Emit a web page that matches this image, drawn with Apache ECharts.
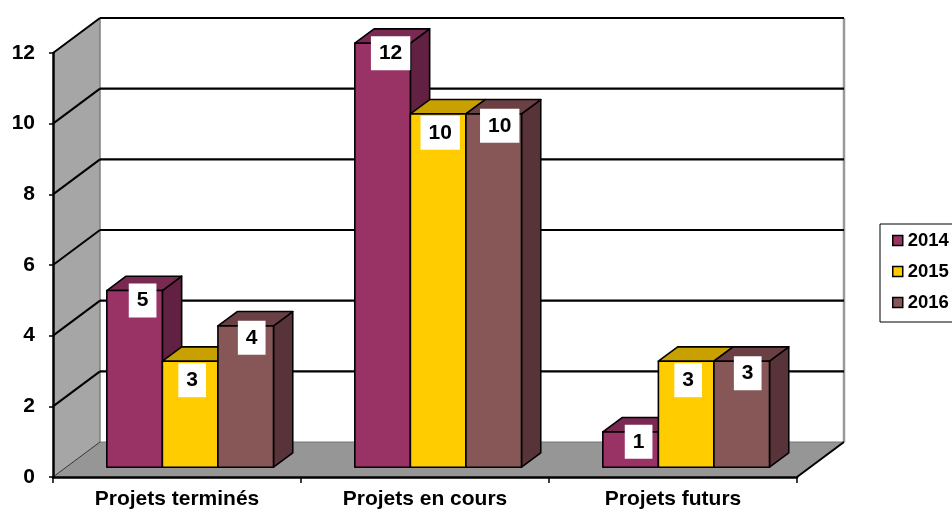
<!DOCTYPE html>
<html>
<head>
<meta charset="utf-8">
<script src="https://cdn.jsdelivr.net/npm/echarts@6/dist/echarts.min.js"></script>
<style>html,body{margin:0;padding:0;background:#fff;}#chart{width:952px;height:511px;}</style>
</head>
<body>
<div id="chart"></div>
<script>
// ---- data ----
const categories = ['Projets terminés', 'Projets en cours', 'Projets futurs'];
const seriesNames = ['2014', '2015', '2016'];
const values2014 = [5, 12, 1];
const values2015 = [3, 10, 3];
const values2016 = [4, 10, 3];
const yTicks = [0, 2, 4, 6, 8, 10, 12];

// ---- style ----
const FONT = '"Liberation Sans", Arial, sans-serif';
const frontColors = ['#993366', '#FFCC00', '#875657'];
const topColors = ['#7a2952', '#c8a000', '#6b4044'];
const sideColors = ['#622042', '#a88600', '#58343a'];
const DEPTH = { x: 47, y: -35 };   // full depth of the 3D box
const BAR_FRONT = 0.28;            // bar front plane (fraction of depth)
const BAR_DEPTH = 0.41;            // bar thickness (fraction of depth)
const BAR_W = 0.224;               // bar width as fraction of band
const labelOffsets = [[8, 10], [2, 19], [6, 12]];

const chart = echarts.init(document.getElementById('chart'), null, { renderer: 'canvas' });

function wallItem(params, api) {
  const cs = params.coordSys;
  const v = api.value(0);
  const left = cs.x, right = cs.x + cs.width;
  const y = api.coord([0, v])[1];
  const bx = left + DEPTH.x, by = y + DEPTH.y;
  const children = [];
  if (params.dataIndex === 0) {
    const yTop = api.coord([0, yTicks[yTicks.length - 1]])[1];
    children.push({ type: 'polygon', z2: 0, shape: { points: [[left, y], [bx, by], [bx, yTop + DEPTH.y], [left, yTop]] },
      style: { fill: '#a6a6a6', stroke: null } });
    children.push({ type: 'polygon', z2: 0, shape: { points: [[left, y], [bx, by], [right + DEPTH.x, by], [right, y]] },
      style: { fill: '#969696', stroke: null } });
    children.push({ type: 'line', z2: 1, shape: { x1: bx, y1: by, x2: bx, y2: yTop + DEPTH.y },
      style: { stroke: '#7f7f7f', lineWidth: 1.5 } });
    children.push({ type: 'line', z2: 1, shape: { x1: right + DEPTH.x, y1: by, x2: right + DEPTH.x, y2: yTop + DEPTH.y },
      style: { stroke: '#999999', lineWidth: 2.5 } });
    children.push({ type: 'line', z2: 1, shape: { x1: bx, y1: by, x2: right + DEPTH.x, y2: by },
      style: { stroke: '#777777', lineWidth: 1 } });
    children.push({ type: 'line', z2: 2, shape: { x1: right, y1: y, x2: right + DEPTH.x, y2: by },
      style: { stroke: '#000', lineWidth: 2 } });
    children.push({ type: 'line', z2: 2, shape: { x1: left, y1: y, x2: bx, y2: by },
      style: { stroke: '#333', lineWidth: 1 } });
  } else {
    children.push({ type: 'line', z2: 2, shape: { x1: left, y1: y, x2: bx, y2: by },
      style: { stroke: '#000', lineWidth: 2 } });
    children.push({ type: 'line', z2: 2, shape: { x1: bx, y1: by, x2: right + DEPTH.x, y2: by },
      style: { stroke: '#000', lineWidth: 2.2 } });
  }
  return { type: 'group', children: children };
}

function makeBarRenderer(si) {
  return function (params, api) {
    const cat = api.value(0), val = api.value(1);
    const base = api.coord([cat, 0]);
    const topP = api.coord([cat, val]);
    const band = api.size([1, 0])[0];
    const bw = band * BAR_W;
    const xl = base[0] + (si - 1.5) * bw + BAR_FRONT * DEPTH.x;
    const xr = xl + bw;
    const yb = base[1] + BAR_FRONT * DEPTH.y;
    const yt = topP[1] + BAR_FRONT * DEPTH.y;
    const dx = BAR_DEPTH * DEPTH.x, dy = BAR_DEPTH * DEPTH.y;
    const stroke = { stroke: '#000', lineWidth: 1.6, lineJoin: 'round' };
    return {
      type: 'group',
      children: [
        { type: 'polygon', z2: 10, shape: { points: [[xr, yb], [xr, yt], [xr + dx, yt + dy], [xr + dx, yb + dy]] },
          style: Object.assign({ fill: sideColors[si] }, stroke) },
        { type: 'polygon', z2: 10, shape: { points: [[xl, yt], [xr, yt], [xr + dx, yt + dy], [xl + dx, yt + dy]] },
          style: Object.assign({ fill: topColors[si] }, stroke) },
        { type: 'rect', z2: 11, shape: { x: xl, y: yt, width: bw, height: yb - yt },
          style: Object.assign({ fill: frontColors[si] }, stroke) },
        { type: 'text', z2: 100,
          x: xl + bw / 2 + labelOffsets[si][0], y: yt + labelOffsets[si][1],
          style: { text: String(val), fill: '#000', fontSize: 21, fontWeight: 'bold', fontFamily: FONT,
            align: 'center', verticalAlign: 'middle', backgroundColor: '#fff', padding: [7, 8, 6, 8] } }
      ]
    };
  };
}

const allValues = [values2014, values2015, values2016];
const barSeries = seriesNames.map(function (name, si) {
  return {
    name: name,
    type: 'custom',
    z: 3,
    itemStyle: { color: frontColors[si], borderColor: '#000', borderWidth: 1.5 },
    renderItem: makeBarRenderer(si),
    encode: { x: 0, y: 1 },
    data: allValues[si].map(function (v, i) { return [i, v]; })
  };
});

const option = {
  backgroundColor: '#fff',
  animation: false,
  grid: { left: 53, right: 155, top: 53, bottom: 34 },
  xAxis: {
    type: 'category',
    data: categories,
    z: 10,
    axisLine: { show: true, lineStyle: { color: '#000', width: 2.5 } },
    axisTick: { show: true, length: 6, lineStyle: { color: '#000', width: 1.5 } },
    axisLabel: { color: '#000', fontSize: 21, fontWeight: 'bold', fontFamily: FONT, margin: 12 },
    splitLine: { show: false }
  },
  yAxis: {
    type: 'value',
    min: 0, max: 12, interval: 2,
    z: 10,
    axisLine: { show: true, lineStyle: { color: '#000', width: 2.5 } },
    axisTick: { show: true, length: 4, lineStyle: { color: '#000', width: 1.5 } },
    axisLabel: { color: '#000', fontSize: 21, fontWeight: 'bold', fontFamily: FONT, margin: 18 },
    splitLine: { show: false }
  },
  legend: {
    left: 880, top: 224,
    orient: 'vertical',
    padding: [7, 40, 10, 12],
    borderColor: '#000', borderWidth: 1,
    itemWidth: 10, itemHeight: 10, itemGap: 12,
    icon: 'rect',
    textStyle: { color: '#000', fontSize: 18.5, fontWeight: 'bold', fontFamily: FONT, lineHeight: 19 },
    data: seriesNames.map(function (n, si) {
      return { name: n, icon: 'rect', itemStyle: { color: frontColors[si], borderColor: '#000', borderWidth: 1.5 } };
    })
  },
  series: [{
    name: 'walls',
    type: 'custom',
    z: 1,
    silent: true,
    renderItem: wallItem,
    encode: { y: 0 },
    data: yTicks.map(function (v) { return [v]; })
  }].concat(barSeries)
};
chart.setOption(option);
</script>
</body>
</html>
